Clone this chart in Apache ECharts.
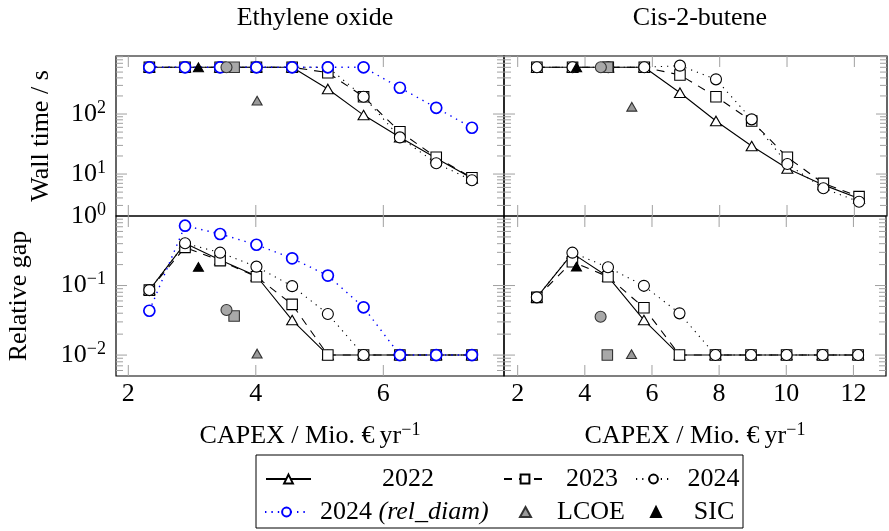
<!DOCTYPE html>
<html>
<head>
<meta charset="utf-8">
<script src="https://cdn.jsdelivr.net/npm/echarts@6/dist/echarts.min.js"></script>
<style>
html, body { margin: 0; padding: 0; background: #fff; }
#chart { width: 889px; height: 531px; }
</style>
</head>
<body>
<div id="chart"></div>
<script>
//--------------------------------
// Data
//--------------------------------
// CAPEX positions (Mio. EUR/yr)
const xEO = [2.33, 2.89, 3.44, 4.01, 4.57, 5.13, 5.69, 6.26, 6.83, 7.39];
const xCB = [2.57, 3.63, 4.69, 5.76, 6.82, 7.89, 8.95, 10.01, 11.08, 12.14];

// wall time / s
const time22EO = [600, 600, 600, 600, 600, 261, 96, 41, 18.3, 8.5];
const time23EO = [600, 600, 600, 600, 600, 488, 194, 50.7, 19, 8.7];
const time24EO = [600, 600, 600, 600, 600, 600, 194, 40.8, 15.1, 7.9];
const time24rEO = [600, 600, 600, 600, 600, 600, 600, 274, 127, 59];
const time22CB = [600, 600, 600, 600, 226, 76.5, 29.3, 12.4, 6.6, 3.9];
const time23CB = [600, 600, 600, 600, 447, 194, 76.5, 19, 7.0, 4.2];
const time24CB = [600, 600, 600, 600, 640, 378, 81.5, 14.7, 5.8, 3.45];

// relative gap
const gap22EO = [0.086, 0.405, 0.233, 0.137, 0.0319, 0.01, 0.01, 0.01, 0.01, 0.01];
const gap23EO = [0.086, 0.354, 0.228, 0.134, 0.0536, 0.01, 0.01, 0.01, 0.01, 0.01];
const gap24EO = [0.086, 0.405, 0.297, 0.187, 0.098, 0.039, 0.01, 0.01, 0.01, 0.01];
const gap24rEO = [0.0434, 0.726, 0.551, 0.386, 0.246, 0.139, 0.0486, 0.01, 0.01, 0.01];
const gap22CB = [0.0676, 0.29, 0.134, 0.0319, 0.01, 0.01, 0.01, 0.01, 0.01, 0.01];
const gap23CB = [0.0676, 0.22, 0.134, 0.048, 0.01, 0.01, 0.01, 0.01, 0.01, 0.01];
const gap24CB = [0.0676, 0.297, 0.183, 0.099, 0.0398, 0.01, 0.01, 0.01, 0.01, 0.01];

// single points [x, time, gap]
const lcoeEO = [4.02, 167, 0.0105];
const sicEO = [3.10, 600, 0.185];
const lcoeCircEO = [3.54, 600, 0.0444];
const lcoeSqEO = [3.66, 600, 0.0364];
const lcoeCB = [5.39, 132, 0.0103];
const sicCB = [3.75, 600, 0.187];
const lcoeCircCB = [4.47, 600, 0.0356];
const lcoeSqCB = [4.67, 600, 0.01];

// axis ranges and ticks
const xRangeEO = [1.807, 7.893];
const xRangeCB = [1.593, 12.97];
const yRangeTime = [2, 926];
const yRangeGap = [0.005, 1];
const xTicksEO = [2, 4, 6];
const xTicksCB = [2, 4, 6, 8, 10, 12];
const yMajorTime = [10, 100];
const yMinorTime = [3, 4, 5, 6, 7, 8, 9, 20, 30, 40, 50, 60, 70, 80, 90, 200, 300, 400, 500, 600, 700, 800, 900];
const yMajorGap = [0.01, 0.1];
const yMinorGap = [0.006, 0.007, 0.008, 0.009, 0.02, 0.03, 0.04, 0.05, 0.06, 0.07, 0.08, 0.09, 0.2, 0.3, 0.4, 0.5, 0.6, 0.7, 0.8, 0.9];

//--------------------------------
// Helpers
//--------------------------------
const FONT = "'Liberation Serif', 'DejaVu Serif', serif";
const TICK = '#a0a0a0';

const zip = (xs, ys) => xs.map((x, i) => [x, ys[i]]);

const powLabel = (v) => {
    const lg = Math.log10(v);
    const e = Math.round(lg);
    if (Math.abs(lg - e) > 1e-6) return '';
    return '{b|10}{s|' + (e < 0 ? '\u2212' + (-e) : e) + '}';
};

const supRich = {
    b: { fontFamily: FONT, fontSize: 26, lineHeight: 30, color: '#000' },
    s: { fontFamily: FONT, fontSize: 18, lineHeight: 18, verticalAlign: 'top', color: '#000' },
    t: { fontFamily: FONT, fontSize: 26, lineHeight: 30, color: '#000' }
};

const lineSeries = (name, gi, xs, ys, kind) => {
    const s = {
        name: name,
        type: 'line',
        xAxisIndex: gi,
        yAxisIndex: gi,
        data: zip(xs, ys),
        z: 3,
        showSymbol: true,
        symbolKeepAspect: true,
        lineStyle: { color: '#000', width: 1.1, type: 'solid' },
        itemStyle: { color: '#fff', borderColor: '#000', borderWidth: 1.1 },
        emphasis: { disabled: true }
    };
    if (kind === 22) {
        s.symbol = 'triangle';
        s.symbolSize = [11, 9.5];
    } else if (kind === 23) {
        s.symbol = 'rect';
        s.symbolSize = 10.5;
        s.lineStyle.type = [8, 7];
    } else if (kind === 24) {
        s.symbol = 'circle';
        s.symbolSize = 11;
        s.lineStyle.type = [1.2, 5];
    } else {
        s.symbol = 'circle';
        s.symbolSize = 11;
        s.lineStyle = { color: '#0000ff', width: 1.4, type: [1.4, 5] };
        s.itemStyle = { color: '#fff', borderColor: '#0000ff', borderWidth: 1.7 };
    }
    return s;
};

const pointSeries = (name, gi, x, y, symbol, fill, size) => ({
    name: name,
    type: 'scatter',
    xAxisIndex: gi,
    yAxisIndex: gi,
    data: [[x, y]],
    z: 4,
    symbol: symbol,
    symbolSize: size,
    itemStyle: { color: fill, borderColor: fill === '#000' ? '#000' : '#333', borderWidth: 1.1, opacity: 1 },
    emphasis: { disabled: true }
});

// gray tick marks drawn inside every panel (pgfplots style)
const tickSeries = (gi, xTicks, yMaj, yMin, xRef, yRef) => {
    const data = [];
    xTicks.forEach(v => data.push([v, yRef, 0]));
    yMaj.forEach(v => data.push([xRef, v, 1]));
    yMin.forEach(v => data.push([xRef, v, 2]));
    return {
        type: 'custom',
        xAxisIndex: gi,
        yAxisIndex: gi,
        silent: true,
        clip: false,
        z: 1,
        encode: { x: 0, y: 1 },
        data: data,
        renderItem: (params, api) => {
            const cs = params.coordSys;
            const kind = api.value(2);
            const p = api.coord([api.value(0), api.value(1)]);
            const st = { stroke: TICK, lineWidth: 1 };
            if (kind === 0) {
                const b = cs.y + cs.height, t = cs.y;
                return { type: 'group', children: [
                    { type: 'line', shape: { x1: p[0], y1: b, x2: p[0], y2: b - 11 }, style: st },
                    { type: 'line', shape: { x1: p[0], y1: t, x2: p[0], y2: t + 11 }, style: st }
                ] };
            }
            const len = kind === 1 ? 11 : 7;
            const l = cs.x, r = cs.x + cs.width;
            return { type: 'group', children: [
                { type: 'line', shape: { x1: l, y1: p[1], x2: l + len, y2: p[1] }, style: st },
                { type: 'line', shape: { x1: r, y1: p[1], x2: r - len, y2: p[1] }, style: st }
            ] };
        }
    };
};

//--------------------------------
// Layout
//--------------------------------
const grids = [
    { left: 116, top: 56, width: 388, height: 160 },
    { left: 504, top: 56, width: 383, height: 160 },
    { left: 116, top: 216, width: 388, height: 160 },
    { left: 504, top: 216, width: 383, height: 160 }
].map(g => Object.assign(g, { show: true, borderColor: '#000', borderWidth: 1.2, backgroundColor: 'transparent' }));

const xName = '{t|CAPEX / Mio. \u20AC\u2009yr}{s|\u22121}';

const xAxes = [0, 1, 2, 3].map(i => ({
    gridIndex: i,
    type: 'value',
    min: i % 2 === 0 ? xRangeEO[0] : xRangeCB[0],
    max: i % 2 === 0 ? xRangeEO[1] : xRangeCB[1],
    axisLine: { show: false },
    axisTick: { show: false },
    splitLine: { show: false },
    axisLabel: {
        show: i >= 2,
        margin: 5,
        fontFamily: FONT,
        fontSize: 26,
        color: '#000',
        formatter: v => (Math.abs(v - Math.round(v)) < 1e-9 && Math.round(v) % 2 === 0) ? String(Math.round(v)) : ''
    },
    name: i >= 2 ? xName : '',
    nameLocation: 'middle',
    nameGap: 45,
    nameTextStyle: { rich: supRich }
}));

const yAxes = [0, 1, 2, 3].map(i => ({
    gridIndex: i,
    type: 'log',
    logBase: 10,
    min: i < 2 ? yRangeTime[0] : yRangeGap[0],
    max: i < 2 ? yRangeTime[1] : yRangeGap[1],
    axisLine: { show: false },
    axisTick: { show: false },
    splitLine: { show: false },
    minorTick: { show: false },
    axisLabel: {
        show: i % 2 === 0,
        margin: 10,
        formatter: powLabel,
        rich: supRich
    },
    name: i === 0 ? 'Wall time / s' : (i === 2 ? 'Relative gap' : ''),
    nameLocation: 'middle',
    nameRotate: 90,
    nameGap: i === 0 ? 62 : 84,
    nameTextStyle: { fontFamily: FONT, fontSize: 26, color: '#000' }
}));

//--------------------------------
// Series
//--------------------------------
const series = [
    tickSeries(0, xTicksEO, yMajorTime, yMinorTime, 3, 100),
    tickSeries(1, xTicksCB, yMajorTime, yMinorTime, 5, 100),
    tickSeries(2, xTicksEO, yMajorGap, yMinorGap, 3, 0.1),
    tickSeries(3, xTicksCB, yMajorGap, yMinorGap, 5, 0.1),

    lineSeries('2022', 0, xEO, time22EO, 22),
    lineSeries('2023', 0, xEO, time23EO, 23),
    lineSeries('2024', 0, xEO, time24EO, 24),
    lineSeries('2024r', 0, xEO, time24rEO, 25),
    lineSeries('2022', 1, xCB, time22CB, 22),
    lineSeries('2023', 1, xCB, time23CB, 23),
    lineSeries('2024', 1, xCB, time24CB, 24),
    lineSeries('2022', 2, xEO, gap22EO, 22),
    lineSeries('2023', 2, xEO, gap23EO, 23),
    lineSeries('2024', 2, xEO, gap24EO, 24),
    lineSeries('2024r', 2, xEO, gap24rEO, 25),
    lineSeries('2022', 3, xCB, gap22CB, 22),
    lineSeries('2023', 3, xCB, gap23CB, 23),
    lineSeries('2024', 3, xCB, gap24CB, 24)
];

[[0, 1], [2, 2]].forEach(([gi, k]) => {
    series.push(pointSeries('LCOE sq', gi, lcoeSqEO[0], lcoeSqEO[k], 'rect', '#a8a8a8', 10.5));
    series.push(pointSeries('LCOE circ', gi, lcoeCircEO[0], lcoeCircEO[k], 'circle', '#a8a8a8', 11));
    series.push(pointSeries('LCOE', gi, lcoeEO[0], lcoeEO[k], 'triangle', '#9a9a9a', [10, 8.7]));
    series.push(pointSeries('SIC', gi, sicEO[0], sicEO[k], 'triangle', '#000', [10, 8.7]));
});
[[1, 1], [3, 2]].forEach(([gi, k]) => {
    series.push(pointSeries('LCOE sq', gi, lcoeSqCB[0], lcoeSqCB[k], 'rect', '#a8a8a8', 10.5));
    series.push(pointSeries('LCOE circ', gi, lcoeCircCB[0], lcoeCircCB[k], 'circle', '#a8a8a8', 11));
    series.push(pointSeries('LCOE', gi, lcoeCB[0], lcoeCB[k], 'triangle', '#9a9a9a', [10, 8.7]));
    series.push(pointSeries('SIC', gi, sicCB[0], sicCB[k], 'triangle', '#000', [10, 8.7]));
});

//--------------------------------
// Legend (pgfplots-like 3 columns)
//--------------------------------
const legendBase = (name, left, top, iw, ih, fmt, rich) => ({
    data: [name],
    left: left,
    top: top,
    padding: 0,
    itemGap: 0,
    itemWidth: iw,
    itemHeight: ih,
    selectedMode: false,
    formatter: fmt,
    textStyle: { fontFamily: FONT, fontSize: 26, color: '#000', rich: rich }
});
const cell = (w) => ({ c: { fontFamily: FONT, fontSize: 26, lineHeight: 30, color: '#000', width: w, align: 'center' } });

const legends = [
    legendBase('2022', 265, 466, 45, 11, n => '{c|' + n + '}', cell(184)),
    legendBase('2023', 503, 466, 42, 11, n => '{c|' + n + '}', cell(82)),
    legendBase('2024', 635, 466, 35, 11, n => '{c|' + n + '}', cell(75)),
    legendBase('2024r', 264, 499, 43, 11, () => '{a|2024 }{i|(rel_diam)}', {
        a: { fontFamily: FONT, fontSize: 26, lineHeight: 30, color: '#000', padding: [0, 0, 0, 7] },
        i: { fontFamily: FONT, fontSize: 26, lineHeight: 30, color: '#000', fontStyle: 'italic' }
    }),
    legendBase('LCOE', 519, 499, 11, 10, n => '{c|' + n + '}', cell(110)),
    legendBase('SIC', 650, 499, 10, 10, n => '{c|' + n + '}', cell(96))
];

//--------------------------------
// Chart
//--------------------------------
const myChart = echarts.init(document.getElementById('chart'), null, { renderer: 'canvas' });
myChart.setOption({
    animation: false,
    backgroundColor: '#fff',
    title: [
        { text: 'Ethylene oxide', left: 310, top: 0, textAlign: 'center',
          textStyle: { fontFamily: FONT, fontSize: 26, fontWeight: 'normal', color: '#000' } },
        { text: 'Cis-2-butene', left: 695, top: 0, textAlign: 'center',
          textStyle: { fontFamily: FONT, fontSize: 26, fontWeight: 'normal', color: '#000' } }
    ],
    grid: grids,
    xAxis: xAxes,
    yAxis: yAxes,
    legend: legends,
    graphic: [
        { type: 'rect', shape: { x: 256, y: 455, width: 487, height: 73 },
          style: { fill: 'none', stroke: '#000', lineWidth: 1 }, silent: true }
    ],
    series: series
});
</script>
</body>
</html>
